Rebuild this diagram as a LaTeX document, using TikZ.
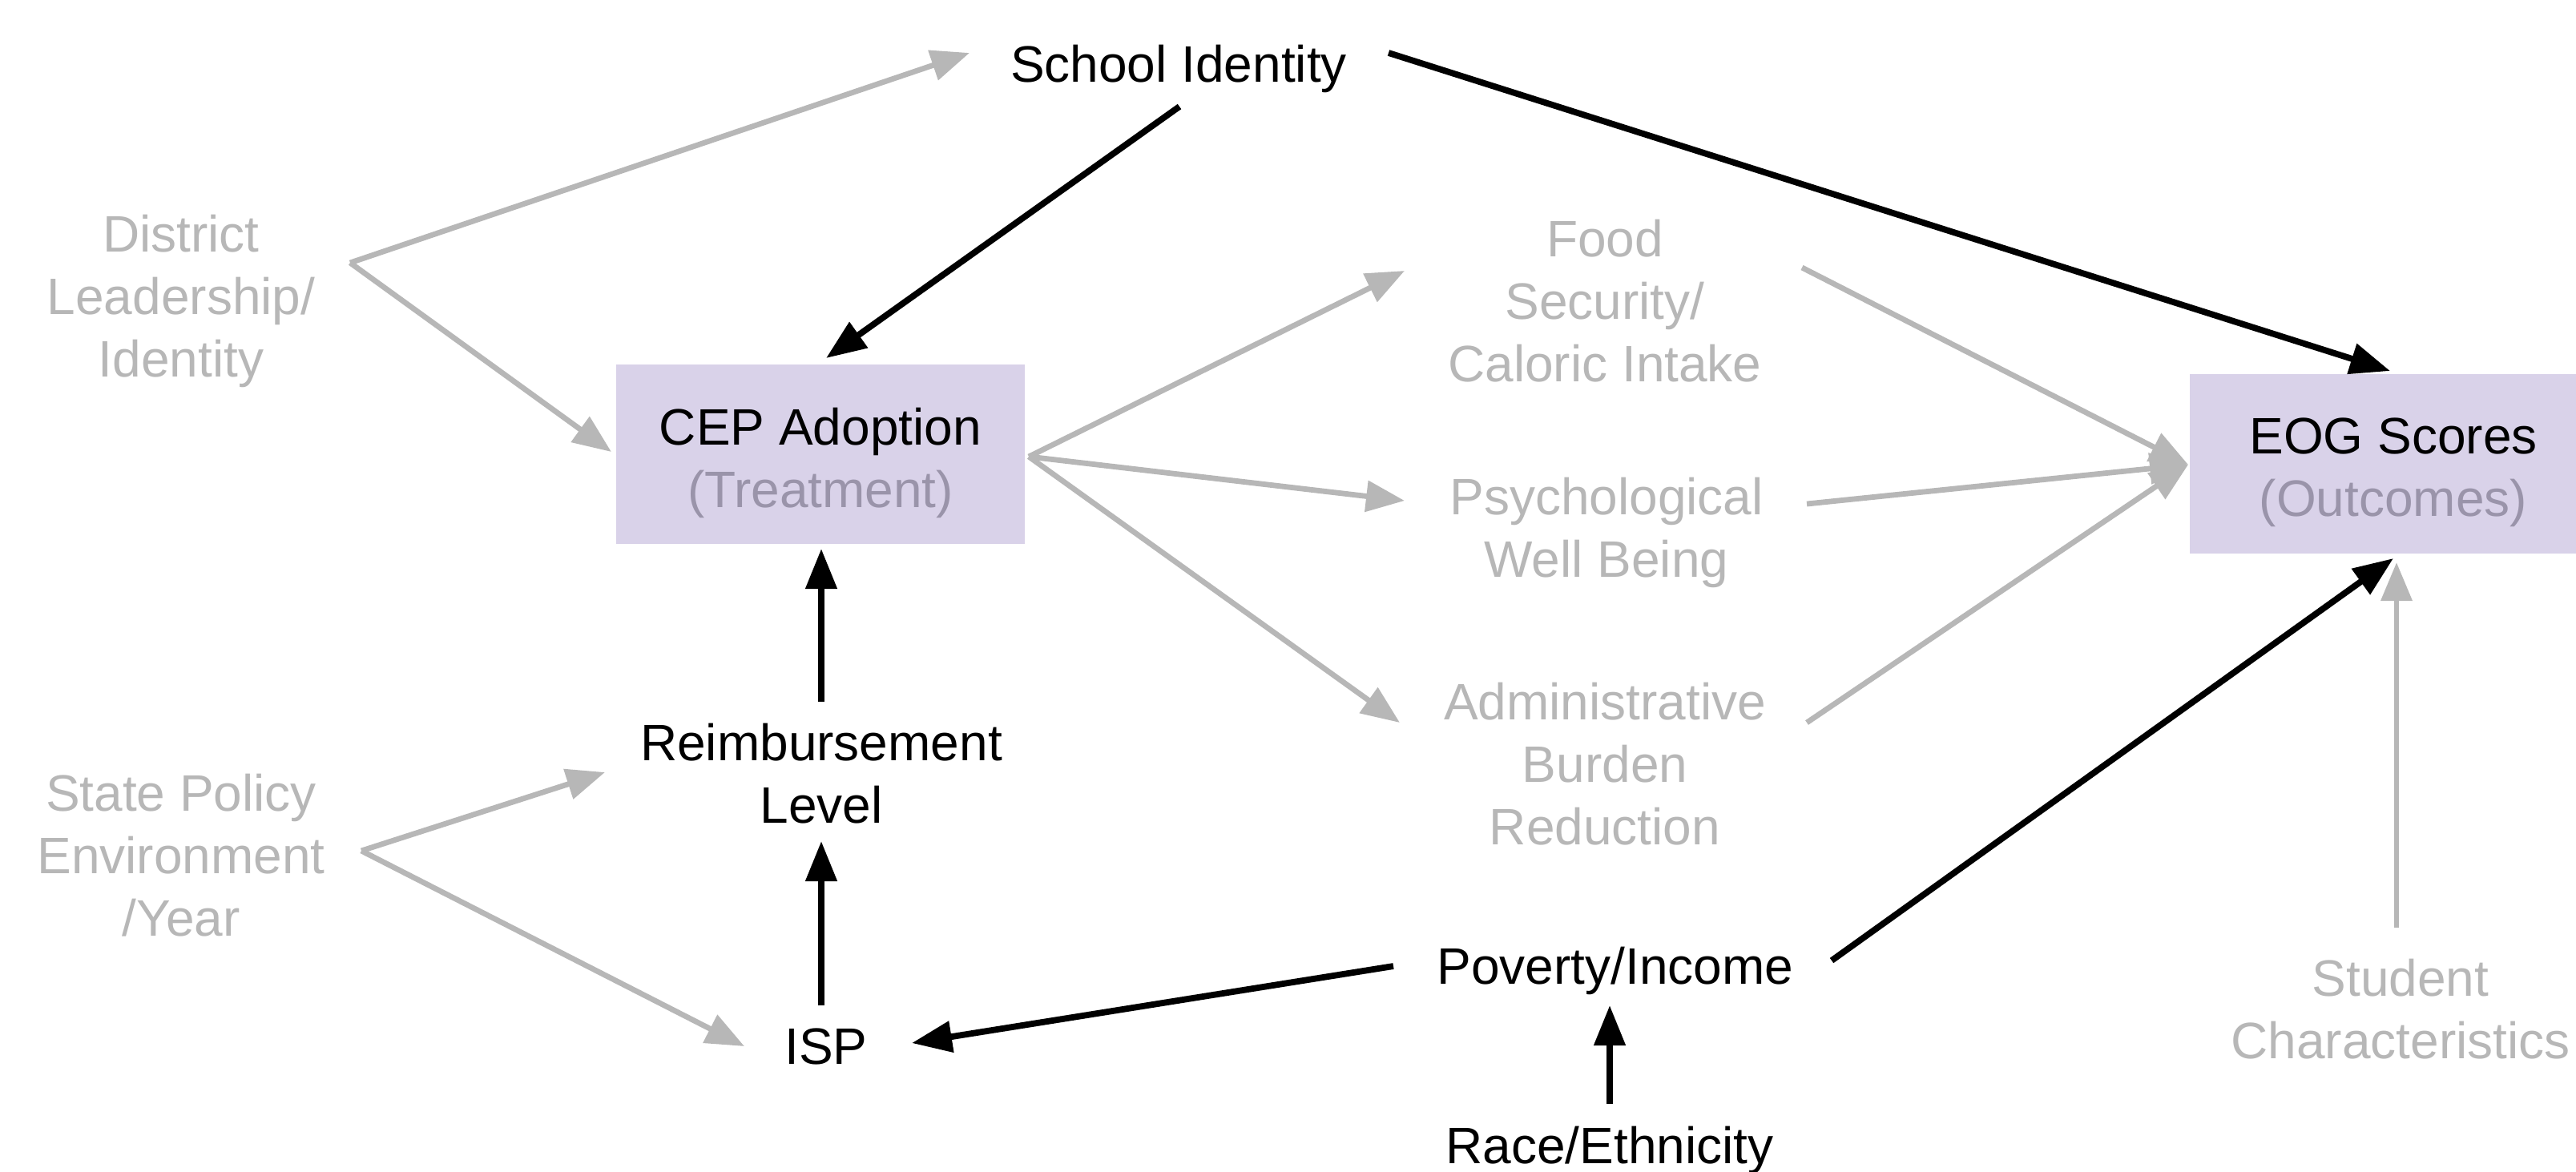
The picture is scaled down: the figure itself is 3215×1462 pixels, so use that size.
\documentclass[tikz,border=0pt]{standalone}
\usepackage{fontspec}
\setmainfont{Liberation Sans}
\usetikzlibrary{arrows.meta}
\definecolor{lav}{HTML}{D9D2E9}
\definecolor{gry}{HTML}{B7B7B7}
\definecolor{tgray}{HTML}{9A94AA}
\tikzset{
  lbl/.style={align=center, font=\fontsize{18.2}{22.2}\selectfont, inner sep=0pt},
  dim/.style={lbl, text=gry},
  dark/.style={lbl, text=black},
  boxnode/.style={fill=lav, draw=none, inner sep=0pt},
  garrow/.style={draw=gry, line width=0.068cm, -{Triangle[length=0.48cm,width=0.38cm]}},
  barrow/.style={draw=black, line width=0.078cm, -{Triangle[length=0.5cm,width=0.38cm]}},
}
\begin{document}
\begin{tikzpicture}[x=0.01cm, y=-0.01cm]
\useasboundingbox (0,0) rectangle (3215,1462);
% boxes
\node[boxnode, minimum width=5.1cm, minimum height=2.24cm] (cepbox) at (1024,567) {};
\node[boxnode, minimum width=5.0cm, minimum height=2.24cm] (eogbox) at (2983,579) {};
% labels
\node[dark] (si) at (1471,86) {School Identity};
\node[dim] (dist) at (226,376) {District\\Leadership/\\Identity};
\node[lbl] (cep) at (1024,578) {CEP Adoption\\\textcolor{tgray}{(Treatment)}};
\node[dim] (food) at (2003,376) {Food\\Security/\\Caloric Intake};
\node[dim] (psych) at (2005,665) {Psychological\\Well Being};
\node[dim] (admin) at (2003,954) {Administrative\\Burden\\Reduction};
\node[lbl] (eog) at (2987,590) {EOG Scores\\\textcolor{tgray}{(Outcomes)}};
\node[dark] (reimb) at (1025,966) {Reimbursement\\Level};
\node[dim] (state) at (226,1068) {State Policy\\Environment\\/Year};
\node[dark] (isp) at (1031,1306) {ISP};
\node[dark] (pov) at (2016,1212) {Poverty/Income};
\node[dark] (race) at (2009,1436) {Race/Ethnicity};
\node[dim] (stud) at (2996,1260) {Student\\Characteristics};
% ports
\coordinate (dist-o) at (437,328);
\coordinate (si-in) at (1210,66);
\coordinate (cep-inl) at (763,564);
\coordinate (si-o1) at (1472,133);
\coordinate (cep-int) at (1031,447);
\coordinate (si-o2) at (1733,66);
\coordinate (eog-int) at (2983,463);
\coordinate (cep-o) at (1284,570);
\coordinate (food-in) at (1753,338);
\coordinate (psych-in) at (1753,625);
\coordinate (admin-in) at (1747,902);
\coordinate (food-o) at (2249,334);
\coordinate (psych-o) at (2255,629);
\coordinate (admin-o) at (2255,902);
\coordinate (eog-inl) at (2731,580);
\coordinate (reimb-o) at (1025,876);
\coordinate (cep-inb) at (1025,685);
\coordinate (state-o) at (451,1062);
\coordinate (reimb-inl) at (755,964);
\coordinate (isp-inl) at (929,1306);
\coordinate (isp-o) at (1025,1255);
\coordinate (reimb-inb) at (1025,1050);
\coordinate (pov-ol) at (1739,1206);
\coordinate (isp-inr) at (1138,1302);
\coordinate (pov-or) at (2286,1199);
\coordinate (eog-inb) at (2987,697);
\coordinate (race-o) at (2009,1378);
\coordinate (pov-inb) at (2009,1255);
\coordinate (stud-o) at (2991,1158);
\coordinate (eog-inb2) at (2991,702);
% gray arrows
\draw[garrow] (dist-o) -- (si-in);
\draw[garrow] (dist-o) -- (cep-inl);
\draw[garrow] (cep-o) -- (food-in);
\draw[garrow] (cep-o) -- (psych-in);
\draw[garrow] (cep-o) -- (admin-in);
\draw[garrow] (food-o) -- (eog-inl);
\draw[garrow] (psych-o) -- (eog-inl);
\draw[garrow] (admin-o) -- (eog-inl);
\draw[garrow] (state-o) -- (reimb-inl);
\draw[garrow] (state-o) -- (isp-inl);
\draw[garrow] (stud-o) -- (eog-inb2);
% black arrows
\draw[barrow] (si-o1) -- (cep-int);
\draw[barrow] (si-o2) -- (eog-int);
\draw[barrow] (reimb-o) -- (cep-inb);
\draw[barrow] (isp-o) -- (reimb-inb);
\draw[barrow] (pov-ol) -- (isp-inr);
\draw[barrow] (pov-or) -- (eog-inb);
\draw[barrow] (race-o) -- (pov-inb);
\end{tikzpicture}
\end{document}
